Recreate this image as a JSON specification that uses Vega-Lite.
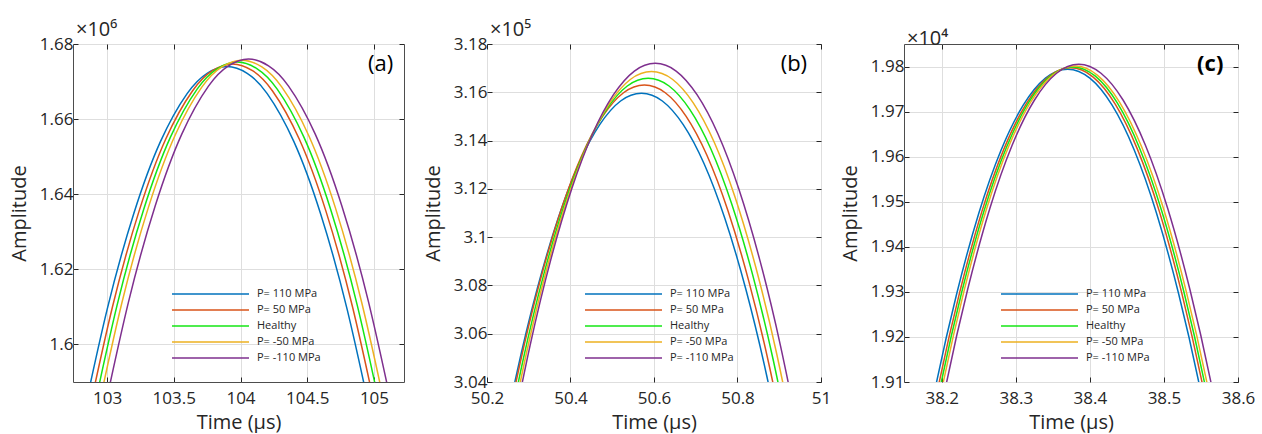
{
"$schema": "https://vega.github.io/schema/vega-lite/v6.json",
"padding": {"left": 8, "top": 19, "right": 2, "bottom": 0},
"background": "white",
"bounds": "flush",
"spacing": 83,
"config": {
 "font": "Open Sans",
 "view": {"stroke": "#4d4d4d", "strokeWidth": 1},
 "axis": {"labelFont": "Open Sans", "labelFontSize": 17, "labelColor": "#262626", "titleFont": "Open Sans", "titleFontSize": 20, "titleFontWeight": "normal", "titleColor": "#262626", "gridColor": "#dedede", "gridWidth": 1, "domain": false, "tickColor": "#262626", "tickSize": -5, "labelFlush": false},
 "axisX": {"labelPadding": 13, "titlePadding": 6},
 "axisY": {"labelPadding": 5, "titlePadding": 10},
 "title": {"font": "Open Sans", "fontSize": 20, "fontWeight": "normal", "color": "#262626", "anchor": "start", "frame": "group", "baseline": "alphabetic", "offset": -5, "dx": 3},
 "legend": {"orient": "none", "title": null, "symbolType": "stroke", "symbolSize": 5929, "symbolStrokeWidth": 1.5, "labelFontSize": 11, "labelColor": "#262626", "labelFont": "Open Sans", "labelOffset": 7, "padding": 0, "rowPadding": 0, "clipHeight": 16, "direction": "vertical"}
},
"datasets": {
 "a": [
  {"t":102.80,"amp":1.5772,"s":"P= 110 MPa"},{"t":103.00,"amp":1.6092,"s":"P= 110 MPa"},{"t":103.20,"amp":1.6348,"s":"P= 110 MPa"},{"t":103.40,"amp":1.6540,"s":"P= 110 MPa"},{"t":103.60,"amp":1.6668,"s":"P= 110 MPa"},{"t":103.75,"amp":1.6722,"s":"P= 110 MPa"},{"t":103.90,"amp":1.6740,"s":"P= 110 MPa"},{"t":104.05,"amp":1.6722,"s":"P= 110 MPa"},{"t":104.20,"amp":1.6668,"s":"P= 110 MPa"},{"t":104.40,"amp":1.6540,"s":"P= 110 MPa"},{"t":104.60,"amp":1.6348,"s":"P= 110 MPa"},{"t":104.80,"amp":1.6092,"s":"P= 110 MPa"},{"t":105.00,"amp":1.5772,"s":"P= 110 MPa"},
  {"t":102.84,"amp":1.5779,"s":"P= 50 MPa"},{"t":103.04,"amp":1.6099,"s":"P= 50 MPa"},{"t":103.24,"amp":1.6355,"s":"P= 50 MPa"},{"t":103.44,"amp":1.6547,"s":"P= 50 MPa"},{"t":103.64,"amp":1.6675,"s":"P= 50 MPa"},{"t":103.79,"amp":1.6729,"s":"P= 50 MPa"},{"t":103.94,"amp":1.6747,"s":"P= 50 MPa"},{"t":104.09,"amp":1.6729,"s":"P= 50 MPa"},{"t":104.24,"amp":1.6675,"s":"P= 50 MPa"},{"t":104.44,"amp":1.6547,"s":"P= 50 MPa"},{"t":104.64,"amp":1.6355,"s":"P= 50 MPa"},{"t":104.84,"amp":1.6099,"s":"P= 50 MPa"},{"t":105.04,"amp":1.5779,"s":"P= 50 MPa"},
  {"t":102.875,"amp":1.5784,"s":"Healthy"},{"t":103.075,"amp":1.6104,"s":"Healthy"},{"t":103.275,"amp":1.6360,"s":"Healthy"},{"t":103.475,"amp":1.6552,"s":"Healthy"},{"t":103.675,"amp":1.6680,"s":"Healthy"},{"t":103.825,"amp":1.6734,"s":"Healthy"},{"t":103.975,"amp":1.6752,"s":"Healthy"},{"t":104.125,"amp":1.6734,"s":"Healthy"},{"t":104.275,"amp":1.6680,"s":"Healthy"},{"t":104.475,"amp":1.6552,"s":"Healthy"},{"t":104.675,"amp":1.6360,"s":"Healthy"},{"t":104.875,"amp":1.6104,"s":"Healthy"},{"t":105.075,"amp":1.5784,"s":"Healthy"},
  {"t":102.91,"amp":1.5789,"s":"P= -50 MPa"},{"t":103.11,"amp":1.6109,"s":"P= -50 MPa"},{"t":103.31,"amp":1.6365,"s":"P= -50 MPa"},{"t":103.51,"amp":1.6557,"s":"P= -50 MPa"},{"t":103.71,"amp":1.6685,"s":"P= -50 MPa"},{"t":103.86,"amp":1.6739,"s":"P= -50 MPa"},{"t":104.01,"amp":1.6757,"s":"P= -50 MPa"},{"t":104.16,"amp":1.6739,"s":"P= -50 MPa"},{"t":104.31,"amp":1.6685,"s":"P= -50 MPa"},{"t":104.51,"amp":1.6557,"s":"P= -50 MPa"},{"t":104.71,"amp":1.6365,"s":"P= -50 MPa"},{"t":104.91,"amp":1.6109,"s":"P= -50 MPa"},{"t":105.11,"amp":1.5789,"s":"P= -50 MPa"},
  {"t":102.96,"amp":1.5792,"s":"P= -110 MPa"},{"t":103.16,"amp":1.6112,"s":"P= -110 MPa"},{"t":103.36,"amp":1.6368,"s":"P= -110 MPa"},{"t":103.56,"amp":1.6560,"s":"P= -110 MPa"},{"t":103.76,"amp":1.6688,"s":"P= -110 MPa"},{"t":103.91,"amp":1.6742,"s":"P= -110 MPa"},{"t":104.06,"amp":1.6760,"s":"P= -110 MPa"},{"t":104.21,"amp":1.6742,"s":"P= -110 MPa"},{"t":104.36,"amp":1.6688,"s":"P= -110 MPa"},{"t":104.56,"amp":1.6560,"s":"P= -110 MPa"},{"t":104.76,"amp":1.6368,"s":"P= -110 MPa"},{"t":104.96,"amp":1.6112,"s":"P= -110 MPa"},{"t":105.16,"amp":1.5792,"s":"P= -110 MPa"}
 ],
 "b": [
  {"t":50.22,"amp":3.0004,"s":"P= 110 MPa"},{"t":50.27,"amp":3.0426,"s":"P= 110 MPa"},{"t":50.32,"amp":3.0784,"s":"P= 110 MPa"},{"t":50.37,"amp":3.1076,"s":"P= 110 MPa"},{"t":50.42,"amp":3.1304,"s":"P= 110 MPa"},{"t":50.47,"amp":3.1466,"s":"P= 110 MPa"},{"t":50.52,"amp":3.1564,"s":"P= 110 MPa"},{"t":50.57,"amp":3.1596,"s":"P= 110 MPa"},{"t":50.62,"amp":3.1564,"s":"P= 110 MPa"},{"t":50.67,"amp":3.1466,"s":"P= 110 MPa"},{"t":50.72,"amp":3.1304,"s":"P= 110 MPa"},{"t":50.77,"amp":3.1076,"s":"P= 110 MPa"},{"t":50.82,"amp":3.0784,"s":"P= 110 MPa"},{"t":50.87,"amp":3.0426,"s":"P= 110 MPa"},{"t":50.92,"amp":3.0004,"s":"P= 110 MPa"},
  {"t":50.227,"amp":3.0038,"s":"P= 50 MPa"},{"t":50.277,"amp":3.0460,"s":"P= 50 MPa"},{"t":50.327,"amp":3.0818,"s":"P= 50 MPa"},{"t":50.377,"amp":3.1110,"s":"P= 50 MPa"},{"t":50.427,"amp":3.1338,"s":"P= 50 MPa"},{"t":50.477,"amp":3.1500,"s":"P= 50 MPa"},{"t":50.527,"amp":3.1598,"s":"P= 50 MPa"},{"t":50.577,"amp":3.1630,"s":"P= 50 MPa"},{"t":50.627,"amp":3.1598,"s":"P= 50 MPa"},{"t":50.677,"amp":3.1500,"s":"P= 50 MPa"},{"t":50.727,"amp":3.1338,"s":"P= 50 MPa"},{"t":50.777,"amp":3.1110,"s":"P= 50 MPa"},{"t":50.827,"amp":3.0818,"s":"P= 50 MPa"},{"t":50.877,"amp":3.0460,"s":"P= 50 MPa"},{"t":50.927,"amp":3.0038,"s":"P= 50 MPa"},
  {"t":50.236,"amp":3.0066,"s":"Healthy"},{"t":50.286,"amp":3.0488,"s":"Healthy"},{"t":50.336,"amp":3.0846,"s":"Healthy"},{"t":50.386,"amp":3.1138,"s":"Healthy"},{"t":50.436,"amp":3.1366,"s":"Healthy"},{"t":50.486,"amp":3.1528,"s":"Healthy"},{"t":50.536,"amp":3.1626,"s":"Healthy"},{"t":50.586,"amp":3.1658,"s":"Healthy"},{"t":50.636,"amp":3.1626,"s":"Healthy"},{"t":50.686,"amp":3.1528,"s":"Healthy"},{"t":50.736,"amp":3.1366,"s":"Healthy"},{"t":50.786,"amp":3.1138,"s":"Healthy"},{"t":50.836,"amp":3.0846,"s":"Healthy"},{"t":50.886,"amp":3.0488,"s":"Healthy"},{"t":50.936,"amp":3.0066,"s":"Healthy"},
  {"t":50.244,"amp":3.0094,"s":"P= -50 MPa"},{"t":50.294,"amp":3.0516,"s":"P= -50 MPa"},{"t":50.344,"amp":3.0874,"s":"P= -50 MPa"},{"t":50.394,"amp":3.1166,"s":"P= -50 MPa"},{"t":50.444,"amp":3.1394,"s":"P= -50 MPa"},{"t":50.494,"amp":3.1556,"s":"P= -50 MPa"},{"t":50.544,"amp":3.1654,"s":"P= -50 MPa"},{"t":50.594,"amp":3.1686,"s":"P= -50 MPa"},{"t":50.644,"amp":3.1654,"s":"P= -50 MPa"},{"t":50.694,"amp":3.1556,"s":"P= -50 MPa"},{"t":50.744,"amp":3.1394,"s":"P= -50 MPa"},{"t":50.794,"amp":3.1166,"s":"P= -50 MPa"},{"t":50.844,"amp":3.0874,"s":"P= -50 MPa"},{"t":50.894,"amp":3.0516,"s":"P= -50 MPa"},{"t":50.944,"amp":3.0094,"s":"P= -50 MPa"},
  {"t":50.253,"amp":3.0128,"s":"P= -110 MPa"},{"t":50.303,"amp":3.0550,"s":"P= -110 MPa"},{"t":50.353,"amp":3.0908,"s":"P= -110 MPa"},{"t":50.403,"amp":3.1200,"s":"P= -110 MPa"},{"t":50.453,"amp":3.1428,"s":"P= -110 MPa"},{"t":50.503,"amp":3.1590,"s":"P= -110 MPa"},{"t":50.553,"amp":3.1688,"s":"P= -110 MPa"},{"t":50.603,"amp":3.1720,"s":"P= -110 MPa"},{"t":50.653,"amp":3.1688,"s":"P= -110 MPa"},{"t":50.703,"amp":3.1590,"s":"P= -110 MPa"},{"t":50.753,"amp":3.1428,"s":"P= -110 MPa"},{"t":50.803,"amp":3.1200,"s":"P= -110 MPa"},{"t":50.853,"amp":3.0908,"s":"P= -110 MPa"},{"t":50.903,"amp":3.0550,"s":"P= -110 MPa"},{"t":50.953,"amp":3.0128,"s":"P= -110 MPa"}
 ],
 "c": [
  {"t":38.160,"amp":1.8816,"s":"P= 110 MPa"},{"t":38.190,"amp":1.9076,"s":"P= 110 MPa"},{"t":38.220,"amp":1.9295,"s":"P= 110 MPa"},{"t":38.250,"amp":1.9475,"s":"P= 110 MPa"},{"t":38.280,"amp":1.9615,"s":"P= 110 MPa"},{"t":38.310,"amp":1.9715,"s":"P= 110 MPa"},{"t":38.340,"amp":1.9775,"s":"P= 110 MPa"},{"t":38.370,"amp":1.9795,"s":"P= 110 MPa"},{"t":38.400,"amp":1.9775,"s":"P= 110 MPa"},{"t":38.430,"amp":1.9715,"s":"P= 110 MPa"},{"t":38.460,"amp":1.9615,"s":"P= 110 MPa"},{"t":38.490,"amp":1.9475,"s":"P= 110 MPa"},{"t":38.520,"amp":1.9295,"s":"P= 110 MPa"},{"t":38.550,"amp":1.9076,"s":"P= 110 MPa"},{"t":38.580,"amp":1.8816,"s":"P= 110 MPa"},
  {"t":38.164,"amp":1.8819,"s":"P= 50 MPa"},{"t":38.194,"amp":1.9079,"s":"P= 50 MPa"},{"t":38.224,"amp":1.9298,"s":"P= 50 MPa"},{"t":38.254,"amp":1.9478,"s":"P= 50 MPa"},{"t":38.284,"amp":1.9618,"s":"P= 50 MPa"},{"t":38.314,"amp":1.9718,"s":"P= 50 MPa"},{"t":38.344,"amp":1.9778,"s":"P= 50 MPa"},{"t":38.374,"amp":1.9798,"s":"P= 50 MPa"},{"t":38.404,"amp":1.9778,"s":"P= 50 MPa"},{"t":38.434,"amp":1.9718,"s":"P= 50 MPa"},{"t":38.464,"amp":1.9618,"s":"P= 50 MPa"},{"t":38.494,"amp":1.9478,"s":"P= 50 MPa"},{"t":38.524,"amp":1.9298,"s":"P= 50 MPa"},{"t":38.554,"amp":1.9079,"s":"P= 50 MPa"},{"t":38.584,"amp":1.8819,"s":"P= 50 MPa"},
  {"t":38.167,"amp":1.8821,"s":"Healthy"},{"t":38.197,"amp":1.9081,"s":"Healthy"},{"t":38.227,"amp":1.9300,"s":"Healthy"},{"t":38.257,"amp":1.9480,"s":"Healthy"},{"t":38.287,"amp":1.9620,"s":"Healthy"},{"t":38.317,"amp":1.9720,"s":"Healthy"},{"t":38.347,"amp":1.9780,"s":"Healthy"},{"t":38.377,"amp":1.9800,"s":"Healthy"},{"t":38.407,"amp":1.9780,"s":"Healthy"},{"t":38.437,"amp":1.9720,"s":"Healthy"},{"t":38.467,"amp":1.9620,"s":"Healthy"},{"t":38.497,"amp":1.9480,"s":"Healthy"},{"t":38.527,"amp":1.9300,"s":"Healthy"},{"t":38.557,"amp":1.9081,"s":"Healthy"},{"t":38.587,"amp":1.8821,"s":"Healthy"},
  {"t":38.170,"amp":1.8823,"s":"P= -50 MPa"},{"t":38.200,"amp":1.9083,"s":"P= -50 MPa"},{"t":38.230,"amp":1.9302,"s":"P= -50 MPa"},{"t":38.260,"amp":1.9482,"s":"P= -50 MPa"},{"t":38.290,"amp":1.9622,"s":"P= -50 MPa"},{"t":38.320,"amp":1.9722,"s":"P= -50 MPa"},{"t":38.350,"amp":1.9782,"s":"P= -50 MPa"},{"t":38.380,"amp":1.9802,"s":"P= -50 MPa"},{"t":38.410,"amp":1.9782,"s":"P= -50 MPa"},{"t":38.440,"amp":1.9722,"s":"P= -50 MPa"},{"t":38.470,"amp":1.9622,"s":"P= -50 MPa"},{"t":38.500,"amp":1.9482,"s":"P= -50 MPa"},{"t":38.530,"amp":1.9302,"s":"P= -50 MPa"},{"t":38.560,"amp":1.9083,"s":"P= -50 MPa"},{"t":38.590,"amp":1.8823,"s":"P= -50 MPa"},
  {"t":38.175,"amp":1.8827,"s":"P= -110 MPa"},{"t":38.205,"amp":1.9087,"s":"P= -110 MPa"},{"t":38.235,"amp":1.9306,"s":"P= -110 MPa"},{"t":38.265,"amp":1.9486,"s":"P= -110 MPa"},{"t":38.295,"amp":1.9626,"s":"P= -110 MPa"},{"t":38.325,"amp":1.9726,"s":"P= -110 MPa"},{"t":38.355,"amp":1.9786,"s":"P= -110 MPa"},{"t":38.385,"amp":1.9806,"s":"P= -110 MPa"},{"t":38.415,"amp":1.9786,"s":"P= -110 MPa"},{"t":38.445,"amp":1.9726,"s":"P= -110 MPa"},{"t":38.475,"amp":1.9626,"s":"P= -110 MPa"},{"t":38.505,"amp":1.9486,"s":"P= -110 MPa"},{"t":38.535,"amp":1.9306,"s":"P= -110 MPa"},{"t":38.565,"amp":1.9087,"s":"P= -110 MPa"},{"t":38.595,"amp":1.8827,"s":"P= -110 MPa"}
 ]
},
"resolve": {"scale": {"x": "independent", "y": "independent", "color": "independent"}, "legend": {"color": "independent"}},
"hconcat": [
 {
  "width": 331, "height": 338,
  "title": {"text": "×10⁶"},
  "resolve": {"axis": {"x": "independent", "y": "independent"}},
  "layer": [
   {"data": {"name": "a"}, "mark": {"type": "line", "clip": true, "interpolate": "natural", "strokeWidth": 1.5},
    "encoding": {
     "x": {"field": "t", "type": "quantitative", "scale": {"domain": [102.745, 105.225], "nice": false, "zero": false}, "axis": {"values": [103, 103.5, 104, 104.5, 105], "format": "~g", "title": "Time (μs)"}},
     "y": {"field": "amp", "type": "quantitative", "scale": {"domain": [1.59, 1.68], "nice": false, "zero": false}, "axis": {"values": [1.6, 1.62, 1.64, 1.66, 1.68], "format": "~g", "title": "Amplitude"}},
     "color": {"field": "s", "type": "nominal", "sort": null, "scale": {"domain": ["P= 110 MPa", "P= 50 MPa", "Healthy", "P= -50 MPa", "P= -110 MPa"], "range": ["#0072BD", "#D95319", "#14e614", "#EDB120", "#7E2F8E"]}, "legend": {"legendX": 98, "legendY": 242}}
    }},
   {"data": {"values": [{}]}, "mark": {"type": "text", "fontSize": 22, "color": "#000000", "align": "center", "baseline": "middle", "font": "Open Sans"},
    "encoding": {"x": {"datum": 105.05, "axis": {"orient": "top", "values": [103, 103.5, 104, 104.5, 105], "labels": false, "grid": false, "title": null}}, "y": {"datum": 1.6747, "axis": {"orient": "right", "values": [1.6, 1.62, 1.64, 1.66, 1.68], "labels": false, "grid": false, "title": null}}, "text": {"value": "(a)"}}}
  ]
 },
 {
  "width": 334, "height": 338,
  "title": {"text": "×10⁵"},
  "resolve": {"axis": {"x": "independent", "y": "independent"}},
  "layer": [
   {"data": {"name": "b"}, "mark": {"type": "line", "clip": true, "interpolate": "natural", "strokeWidth": 1.5},
    "encoding": {
     "x": {"field": "t", "type": "quantitative", "scale": {"domain": [50.2, 51], "nice": false, "zero": false}, "axis": {"values": [50.2, 50.4, 50.6, 50.8, 51], "format": "~g", "title": "Time (μs)"}},
     "y": {"field": "amp", "type": "quantitative", "scale": {"domain": [3.04, 3.18], "nice": false, "zero": false}, "axis": {"values": [3.04, 3.06, 3.08, 3.1, 3.12, 3.14, 3.16, 3.18], "format": "~g", "title": "Amplitude"}},
     "color": {"field": "s", "type": "nominal", "sort": null, "scale": {"domain": ["P= 110 MPa", "P= 50 MPa", "Healthy", "P= -50 MPa", "P= -110 MPa"], "range": ["#0072BD", "#D95319", "#14e614", "#EDB120", "#7E2F8E"]}, "legend": {"legendX": 97, "legendY": 242}}
    }},
   {"data": {"values": [{}]}, "mark": {"type": "text", "fontSize": 22, "color": "#000000", "align": "center", "baseline": "middle", "font": "Open Sans"},
    "encoding": {"x": {"datum": 50.935, "axis": {"orient": "top", "values": [50.2, 50.4, 50.6, 50.8, 51], "labels": false, "grid": false, "title": null}}, "y": {"datum": 3.1717, "axis": {"orient": "right", "values": [3.04, 3.06, 3.08, 3.1, 3.12, 3.14, 3.16, 3.18], "labels": false, "grid": false, "title": null}}, "text": {"value": "(b)"}}}
  ]
 },
 {
  "width": 334, "height": 338,
  "title": {"text": "×10⁴"},
  "resolve": {"axis": {"x": "independent", "y": "independent"}},
  "layer": [
   {"data": {"name": "c"}, "mark": {"type": "line", "clip": true, "interpolate": "natural", "strokeWidth": 1.5},
    "encoding": {
     "x": {"field": "t", "type": "quantitative", "scale": {"domain": [38.149, 38.6], "nice": false, "zero": false}, "axis": {"values": [38.2, 38.3, 38.4, 38.5, 38.6], "format": "~g", "title": "Time (μs)"}},
     "y": {"field": "amp", "type": "quantitative", "scale": {"domain": [1.91, 1.9851], "nice": false, "zero": false}, "axis": {"values": [1.91, 1.92, 1.93, 1.94, 1.95, 1.96, 1.97, 1.98], "format": "~g", "title": "Amplitude"}},
     "color": {"field": "s", "type": "nominal", "sort": null, "scale": {"domain": ["P= 110 MPa", "P= 50 MPa", "Healthy", "P= -50 MPa", "P= -110 MPa"], "range": ["#0072BD", "#D95319", "#14e614", "#EDB120", "#7E2F8E"]}, "legend": {"legendX": 96, "legendY": 242}}
    }},
   {"data": {"values": [{}]}, "mark": {"type": "text", "fontSize": 22, "fontWeight": "bold", "color": "#000000", "align": "center", "baseline": "middle", "font": "Open Sans"},
    "encoding": {"x": {"datum": 38.5625, "axis": {"orient": "top", "values": [38.2, 38.3, 38.4, 38.5, 38.6], "labels": false, "grid": false, "title": null}}, "y": {"datum": 1.9807, "axis": {"orient": "right", "values": [1.91, 1.92, 1.93, 1.94, 1.95, 1.96, 1.97, 1.98], "labels": false, "grid": false, "title": null}}, "text": {"value": "(c)"}}}
  ]
 }
]
}
